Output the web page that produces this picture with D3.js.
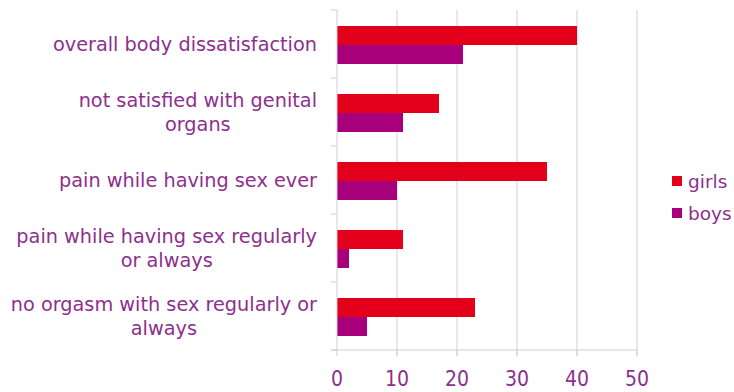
<!DOCTYPE html>
<html><head><meta charset="utf-8">
<script src="https://cdn.jsdelivr.net/npm/d3@7/dist/d3.min.js"></script>
<style>body{margin:0;background:#fff}svg{display:block}</style>
</head><body>
<svg id="c" width="734" height="392"></svg>
<script>
const categories = [
  ["overall body dissatisfaction"],
  ["not satisfied with genital", "organs"],
  ["pain while having sex ever"],
  ["pain while having sex regularly", "or always"],
  ["no orgasm with sex regularly or", "always"]
];
const seriesNames = ["girls", "boys"];
const girls = [40, 17, 35, 11, 23];
const boys = [21, 11, 10, 2, 5];
const xTicks = [0, 10, 20, 30, 40, 50];
const colors = ["#E2001A", "#A8007A"];
const textColor = "#8E2F8E";
const font = "'DejaVu Sans', sans-serif";
const fontC = "'DejaVu Sans Condensed', 'DejaVu Sans', sans-serif";

const svg = d3.select("#c");
const x = d3.scaleLinear().domain([0, 50]).range([337, 637]);
const y = d3.scaleBand().domain(d3.range(categories.length)).range([10, 350]);
const inner = d3.scaleBand().domain([0, 1]).range([0, y.bandwidth()]).paddingOuter(15 / 19).paddingInner(0);

// gridlines
svg.append("g").selectAll("line").data(xTicks.slice(1)).join("line")
  .attr("x1", d => x(d)).attr("x2", d => x(d)).attr("y1", 10).attr("y2", 356)
  .attr("stroke", "#D8CADB").attr("stroke-width", 1);

// bars
const data = [girls, boys];
data.forEach((vals, si) => {
  svg.append("g").selectAll("rect").data(vals).join("rect")
    .attr("x", x(0)).attr("y", (d, i) => y(i) + inner(si) + 1)
    .attr("width", d => x(d) - x(0)).attr("height", inner.bandwidth())
    .attr("fill", colors[si]);
});

// left axis
const yAxisTicks = d3.range(categories.length + 1).map(i => 10 + i * y.bandwidth());
svg.append("line").attr("x1", 337).attr("x2", 337).attr("y1", 10).attr("y2", 350).attr("stroke", "#D8CADB");
svg.append("g").selectAll("line").data(yAxisTicks).join("line")
  .attr("x1", 331).attr("x2", 337).attr("y1", d => d).attr("y2", d => d).attr("stroke", "#D8CADB");
// bottom axis
svg.append("line").attr("x1", 331).attr("x2", 637).attr("y1", 350).attr("y2", 350).attr("stroke", "#D8CADB");
svg.append("g").selectAll("line").data(xTicks).join("line")
  .attr("x1", d => x(d)).attr("x2", d => x(d)).attr("y1", 350).attr("y2", 356).attr("stroke", "#D8CADB");

svg.append("g").selectAll("text").data(xTicks).join("text")
  .attr("x", d => x(d)).attr("y", 386).attr("text-anchor", "middle")
  .attr("font-family", fontC).attr("font-size", 21).attr("fill", textColor).text(d => d);

// category labels: lines centred within a right-aligned block
categories.forEach((lines, i) => {
  const cy = y(i) + y.bandwidth() / 2 + 1;
  const lh = 24;
  const g = svg.append("g");
  const texts = lines.map((ln, j) => g.append("text")
    .attr("text-anchor", "middle")
    .attr("font-family", font).attr("font-size", 19.3).attr("fill", textColor)
    .attr("y", cy + (j - (lines.length - 1) / 2) * lh + 6).text(ln));
  const widths = texts.map(t => t.node().getComputedTextLength());
  const w = d3.max(widths);
  texts.forEach(t => t.attr("x", 317 - w / 2));
});

// legend
seriesNames.forEach((n, i) => {
  const ly = 181 + i * 32;
  svg.append("rect").attr("x", 672).attr("y", ly - 5).attr("width", 10).attr("height", 10).attr("fill", colors[i]);
  svg.append("text").attr("x", 688).attr("y", ly + 7).attr("font-family", font).attr("font-size", 18.5)
    .attr("fill", textColor).text(n);
});
</script>
</body></html>
